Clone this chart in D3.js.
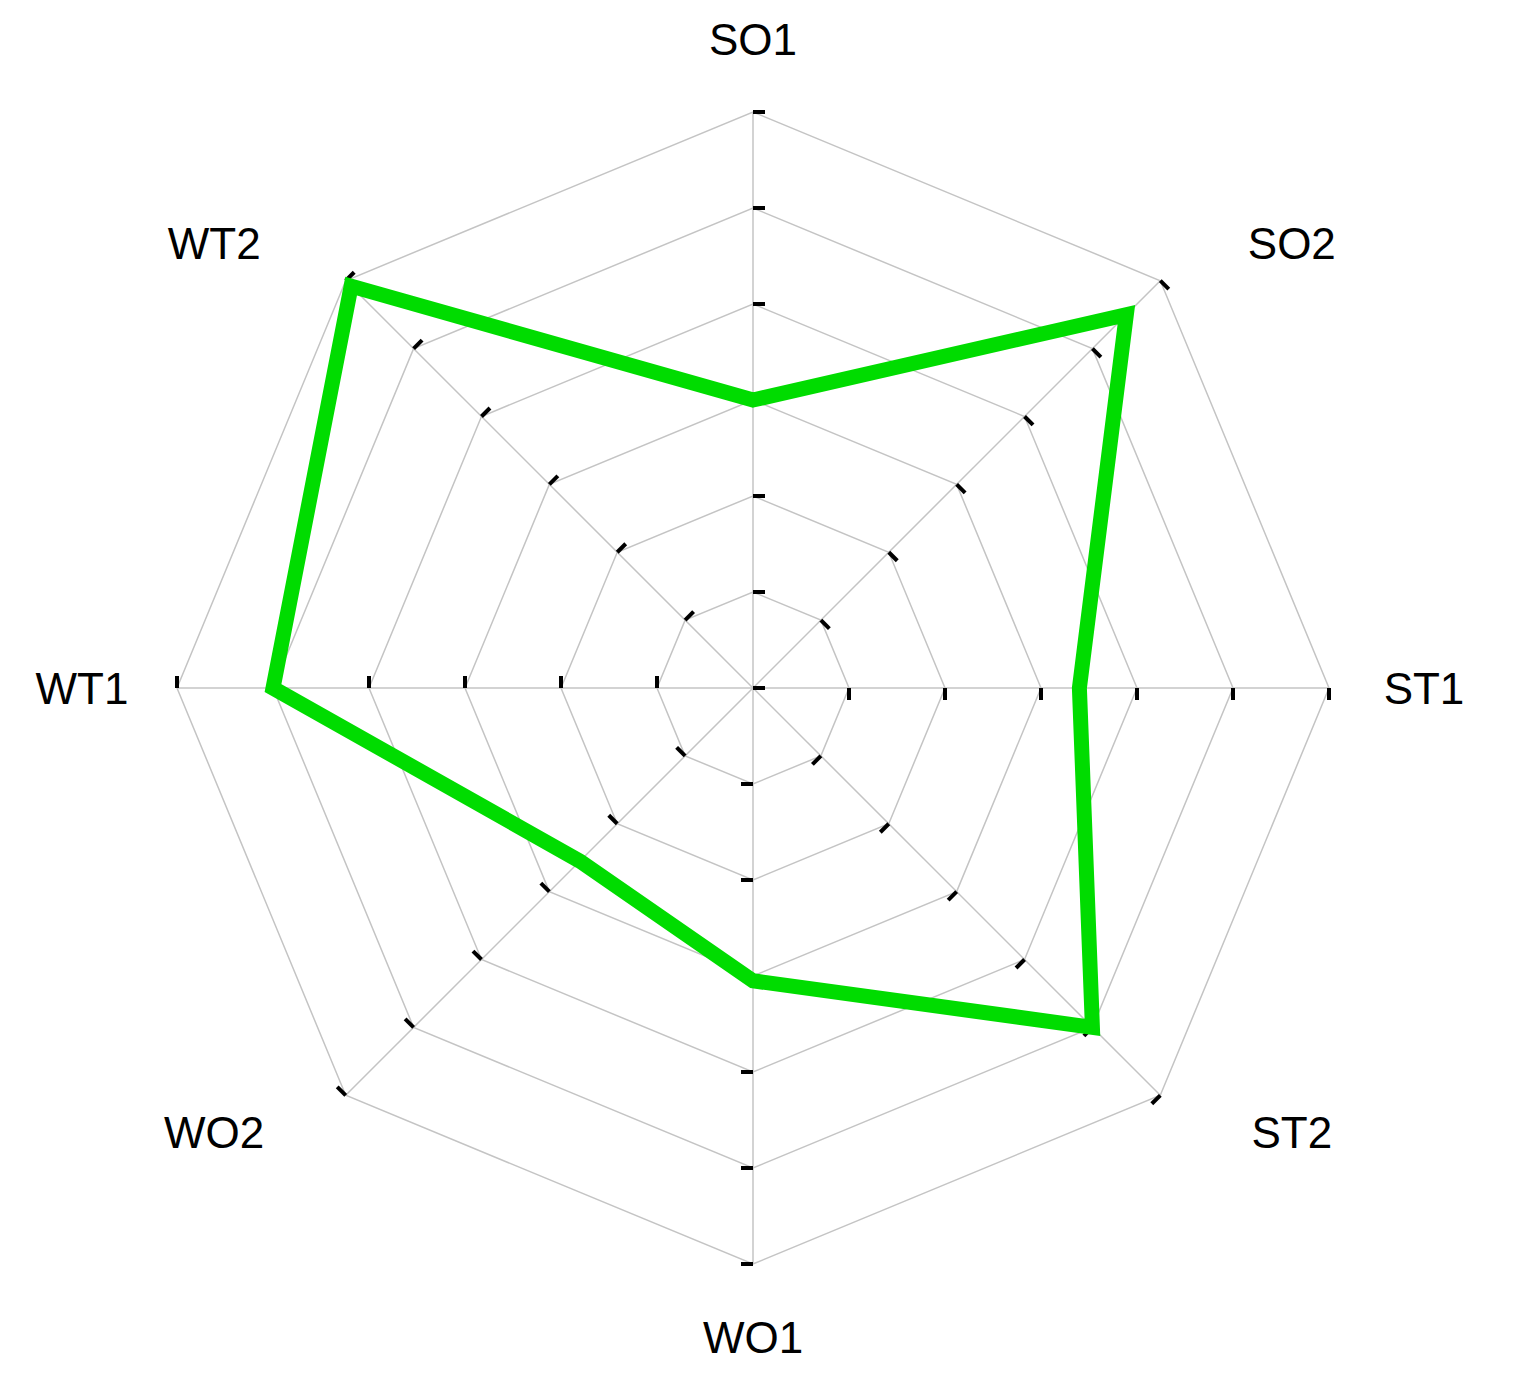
<!DOCTYPE html>
<html>
<head>
<meta charset="utf-8">
<script src="https://cdn.jsdelivr.net/npm/d3@7"></script>
<style>
  body { margin: 0; background: #fff; }
  text { font-family: "Liberation Sans", Arial, sans-serif; }
</style>
</head>
<body>
<div id="chart"></div>
<script>
const axesNames = ["SO1", "SO2", "ST1", "ST2", "WO1", "WO2", "WT1", "WT2"];
const values = [3, 5.5, 3.4, 5, 3.05, 2.55, 5, 5.92];
const levels = [0, 1, 2, 3, 4, 5, 6];

const width = 1528,
  height = 1392;
const cx = 753,
  cy = 688,
  radius = 576;

const r = d3.scaleLinear().domain([0, 6]).range([0, radius]);
const angle = d3
  .scalePoint()
  .domain(axesNames)
  .range([0, 2 * Math.PI * (axesNames.length - 1) / axesNames.length]);

const svg = d3
  .select("#chart")
  .append("svg")
  .attr("width", width)
  .attr("height", height);

const g = svg.append("g").attr("transform", `translate(${cx},${cy})`);

// grid rings
const ringLine = d3
  .lineRadial()
  .angle((d) => angle(d))
  .curve(d3.curveLinearClosed);

g.selectAll(".ring")
  .data(levels.slice(1))
  .enter()
  .append("path")
  .attr("class", "ring")
  .attr("d", (l) => ringLine.radius(r(l))(axesNames))
  .attr("fill", "none")
  .attr("stroke", "#c4c4c4")
  .attr("stroke-width", 1.5);

// spokes
g.selectAll(".spoke")
  .data(axesNames)
  .enter()
  .append("line")
  .attr("x1", 0)
  .attr("y1", 0)
  .attr("x2", (d) => Math.sin(angle(d)) * radius)
  .attr("y2", (d) => -Math.cos(angle(d)) * radius)
  .attr("stroke", "#c4c4c4")
  .attr("stroke-width", 1.5);

// tick marks on each spoke (the centre tick only once)
axesNames.forEach((name, i) => {
  const deg = (angle(name) * 180) / Math.PI;
  g.append("g")
    .attr("transform", `rotate(${deg})`)
    .selectAll("rect")
    .data(i === 0 ? levels : levels.slice(1))
    .enter()
    .append("rect")
    .attr("x", 0)
    .attr("y", (l) => -r(l) - 2)
    .attr("width", 12)
    .attr("height", 4)
    .attr("fill", "#000");
});

// data polygon
const dataLine = d3
  .lineRadial()
  .angle((d, i) => angle(axesNames[i]))
  .radius((d) => r(d))
  .curve(d3.curveLinearClosed);

g.append("path")
  .attr("d", dataLine(values))
  .attr("fill", "none")
  .attr("stroke", "#00dc00")
  .attr("stroke-width", 15)
  .attr("stroke-linejoin", "miter");

// labels
function labelPos(name) {
  const a = angle(name);
  const s = Math.sin(a),
    c = Math.cos(a);
  const diag = Math.abs(Math.sin(2 * a));
  const rx = 671 + (762 - 671) * diag;
  const ry = 649 + (629 - 649) * diag;
  return [s * rx, -c * ry];
}

g.selectAll(".label")
  .data(axesNames)
  .enter()
  .append("text")
  .attr("x", (d) => labelPos(d)[0])
  .attr("y", (d) => labelPos(d)[1])
  .attr("text-anchor", "middle")
  .attr("dominant-baseline", "central")
  .attr("font-size", 44)
  .attr("fill", "#000")
  .text((d) => d);
</script>
</body>
</html>
